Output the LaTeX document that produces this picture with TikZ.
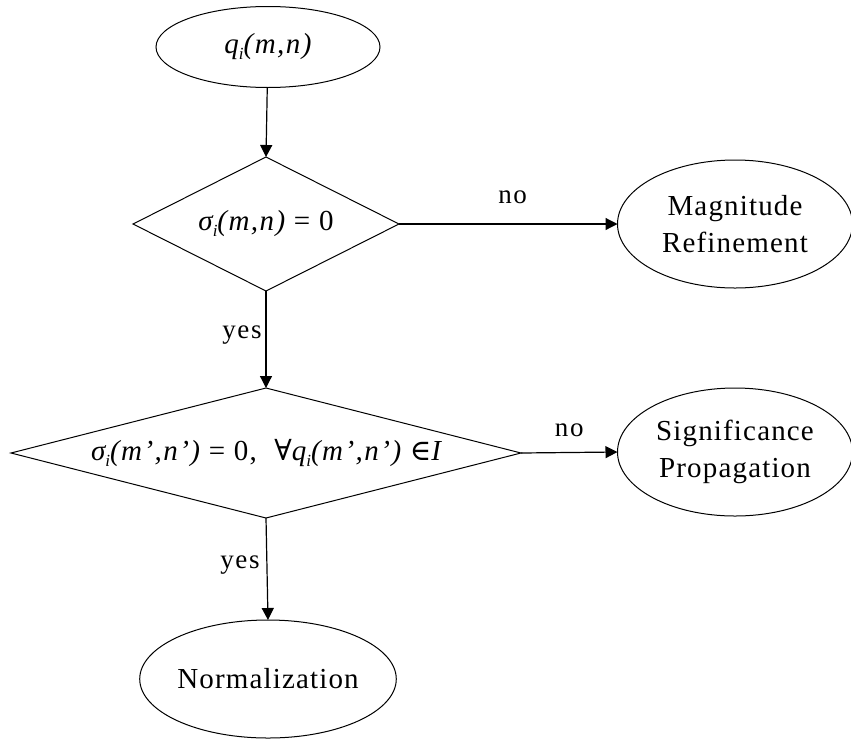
\documentclass[tikz,border=0pt]{standalone}
\usepackage{fontspec}
\setmainfont{Liberation Serif}
\newfontfamily\symfont{DejaVu Serif}
\usetikzlibrary{shapes.geometric,arrows.meta}
\newcommand\mysub[1]{\raisebox{-0.45ex}{\fontsize{17}{17}\selectfont\itshape #1}}
\begin{document}
\begin{tikzpicture}[x=1pt,y=-1pt,
  every node/.style={inner sep=0pt, outer sep=0pt},
  oval/.style={draw, line width=1pt, ellipse},
  decision/.style={draw, line width=1pt, diamond},
  bigtxt/.style={font=\fontsize{29}{37}\selectfont\addfontfeature{LetterSpace=4}, align=center},
  mathtxt/.style={font=\fontsize{29}{30}\selectfont\addfontfeature{LetterSpace=5}},
  lbl/.style={font=\fontsize{27}{28}\selectfont\addfontfeature{LetterSpace=6}},
  conn/.style={line width=1.2pt, -{Triangle[length=12pt,width=12pt]}}
]
\useasboundingbox (0,0) rectangle (851,745);
\node[oval, minimum width=224, minimum height=81, mathtxt] (q) at (268,47)
  {\itshape q\mysub{i}(m,n)};
\node[decision, aspect=2, minimum width=266, minimum height=134, mathtxt] (d1) at (266,224)
  {\itshape σ\mysub{i}(m,n)\upshape\ =\ 0};
\node[oval, minimum width=235, minimum height=128, bigtxt] (mag) at (735,224)
  {Magnitude\\Refinement};
\node[decision, aspect=4, minimum width=510, minimum height=130, mathtxt] (d2) at (266,453)
  {\itshape σ\mysub{i}(m’,n’)\upshape\ =\ 0,\ \ {\symfont ∀}\itshape q\mysub{i}(m’,n’)\upshape\ {\symfont ∈}\itshape I};
\node[oval, minimum width=235, minimum height=128, bigtxt] (sig) at (735,452)
  {Significance\\Propagation};
\node[oval, minimum width=243, minimum height=118, bigtxt] (norm) at (268,679)
  {Normalization};
\draw[conn] (q) -- (d1.north);
\draw[conn] (d1.east) -- node[lbl, pos=0.52, yshift=27] {no} (mag.west);
\draw[conn] (d1.south) -- node[lbl, pos=0.45, xshift=-24] {yes} (d2.north);
\draw[conn] (d2.east) -- node[lbl, pos=0.5, yshift=22] {no} (sig.west);
\draw[conn] (d2.south) -- node[lbl, pos=0.46, xshift=-27] {yes} (norm.north);
\end{tikzpicture}
\end{document}
